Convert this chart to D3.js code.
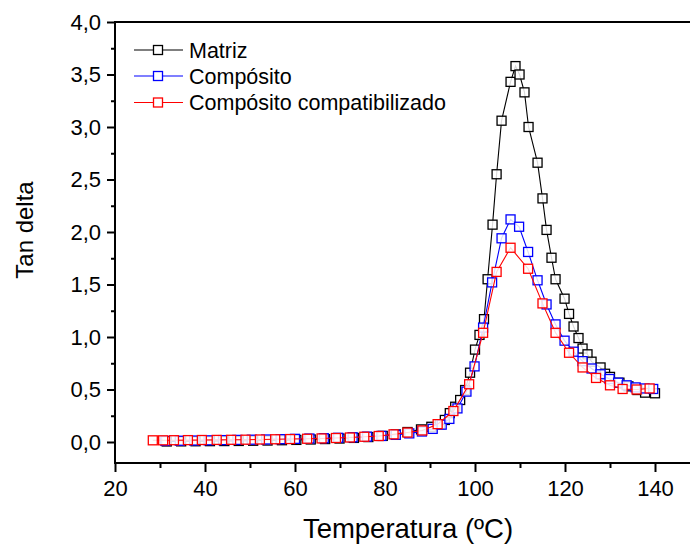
<!DOCTYPE html>
<html>
<head>
<meta charset="utf-8">
<script src="https://cdn.jsdelivr.net/npm/d3@7"></script>
<style>
html,body{margin:0;padding:0;background:#fff;}
svg{display:block;font-family:"Liberation Sans",Arial,sans-serif;}
</style>
</head>
<body>
<svg id="chart" width="690" height="544"></svg>
<script>
// ---- data ----
const seriesNames = ["Matriz", "Compósito", "Compósito compatibilizado"];
const seriesColors = ["#000000", "#0000ff", "#ff0000"];

const matrizT = [31.5,34.7,37.9,41.1,44.3,47.5,50.7,53.9,57.1,60.3,63.5,66.7,69.9,73.1,76.3,79.5,82.4,85.0,88.0,90.3,92.2,93.3,94.4,95.6,96.7,97.8,98.9,100.0,101.0,102.0,102.8,103.9,104.8,105.9,107.9,109.0,109.9,111.0,111.9,113.9,115.0,115.9,117.0,117.9,119.9,120.9,121.9,123.0,123.9,125.0,125.9,127.9,128.9,130.0,132.1,134.1,136.1,137.8,140.0];
const matrizV = [0.005,0.006,0.007,0.008,0.009,0.010,0.012,0.014,0.017,0.020,0.024,0.028,0.033,0.039,0.047,0.058,0.072,0.095,0.120,0.145,0.170,0.210,0.275,0.336,0.400,0.495,0.660,0.880,1.020,1.170,1.550,2.070,2.550,3.060,3.430,3.580,3.500,3.330,3.000,2.660,2.320,2.020,1.755,1.550,1.365,1.220,1.100,0.990,0.890,0.835,0.765,0.710,0.650,0.620,0.565,0.530,0.495,0.470,0.464];

const compT = [31.2,34.4,37.6,40.8,44.0,47.2,50.4,53.6,56.8,60.0,63.2,66.4,69.6,72.8,76.0,79.2,82.4,85.4,88.2,90.6,92.6,94.3,96.1,98.1,99.9,101.8,103.8,105.9,107.9,109.8,111.8,113.9,115.9,117.9,119.9,121.9,123.9,125.9,127.9,129.9,131.8,133.7,135.7,137.7,139.6];
const compV = [0.010,0.012,0.014,0.016,0.018,0.020,0.022,0.024,0.027,0.030,0.033,0.036,0.040,0.045,0.051,0.058,0.068,0.082,0.100,0.125,0.165,0.220,0.320,0.480,0.720,1.090,1.520,1.940,2.120,2.050,1.810,1.540,1.310,1.120,0.965,0.860,0.770,0.700,0.645,0.600,0.565,0.540,0.520,0.510,0.505];

const compatT = [28.4,30.7,33.1,36.2,39.3,42.6,45.8,49.0,52.2,55.6,58.9,62.7,65.9,69.1,72.2,75.4,78.6,81.9,85.0,88.3,91.7,95.2,98.7,101.8,104.8,107.9,111.8,115.0,117.9,120.9,123.9,126.9,130.0,132.8,135.9,138.8];
const compatV = [0.016,0.016,0.017,0.018,0.019,0.020,0.021,0.022,0.024,0.026,0.028,0.031,0.034,0.038,0.043,0.050,0.057,0.073,0.090,0.110,0.170,0.295,0.550,1.040,1.620,1.850,1.650,1.320,1.040,0.850,0.710,0.610,0.540,0.505,0.500,0.510];

const xMajorTicks = [20,40,60,80,100,120,140];
const xMinorTicks = [30,50,70,90,110,130,150];
const yMajorTicks = [0,0.5,1.0,1.5,2.0,2.5,3.0,3.5,4.0];
const yMinorTicks = [0.25,0.75,1.25,1.75,2.25,2.75,3.25,3.75];
const xTitle = "Temperatura (ºC)";
const yTitle = "Tan delta";

// ---- chart ----
const svg = d3.select("#chart");
const x = d3.scaleLinear().domain([20,150]).range([115,700]);
const y = d3.scaleLinear().domain([-0.2,4.0]).range([463,22]);
const locale = d3.formatLocale({decimal:",", thousands:".", grouping:[3], currency:["",""]});
const yFmt = locale.format(".1f");

const series = [
  {name:seriesNames[0], color:seriesColors[0], pts:matrizT.map((t,i)=>[t,matrizV[i]])},
  {name:seriesNames[1], color:seriesColors[1], pts:compT.map((t,i)=>[t,compV[i]])},
  {name:seriesNames[2], color:seriesColors[2], pts:compatT.map((t,i)=>[t,compatV[i]])}
];

const line = d3.line().x(d=>x(d[0])).y(d=>y(d[1]));
const S = 9;
series.forEach(s=>{
  const g = svg.append("g");
  g.append("path").attr("d", line(s.pts)).attr("fill","none")
    .attr("stroke", s.color).attr("stroke-width",1.1);
  g.selectAll("rect").data(s.pts).join("rect")
    .attr("x", d=>x(d[0])-S/2).attr("y", d=>y(d[1])-S/2)
    .attr("width",S).attr("height",S)
    .attr("fill","#fff").attr("fill-opacity",0.85).attr("stroke", s.color).attr("stroke-width",1.3);
});

// axes
const xAxis = svg.append("g").attr("transform","translate(0,463)");
xAxis.call(d3.axisBottom(x).tickValues(xMajorTicks).tickSize(9).tickFormat(d3.format("d")).tickPadding(8));
xAxis.append("g").call(d3.axisBottom(x).tickValues(xMinorTicks).tickSize(5).tickFormat(""));
const yAxis = svg.append("g").attr("transform","translate(115,0)");
yAxis.call(d3.axisLeft(y).tickValues(yMajorTicks).tickSize(8).tickFormat(yFmt).tickPadding(6));
yAxis.append("g").call(d3.axisLeft(y).tickValues(yMinorTicks).tickSize(4).tickFormat(""));
svg.selectAll(".domain").remove();
svg.selectAll(".tick line").attr("stroke","#000").attr("stroke-width",2);
svg.selectAll(".tick text").attr("font-size",22).attr("fill","#000")
  .attr("font-family","'Liberation Sans',Arial,sans-serif");
// frame lines
svg.append("line").attr("x1",115).attr("x2",700).attr("y1",463).attr("y2",463).attr("stroke","#000").attr("stroke-width",2);
svg.append("line").attr("x1",115).attr("x2",700).attr("y1",22).attr("y2",22).attr("stroke","#000").attr("stroke-width",2);
svg.append("line").attr("x1",115).attr("x2",115).attr("y1",21).attr("y2",464).attr("stroke","#000").attr("stroke-width",2);

// titles
svg.append("text").attr("x",408).attr("y",538).attr("text-anchor","middle")
  .attr("font-size",27.5).text(xTitle);
svg.append("text").attr("transform","translate(33,230) rotate(-90)").attr("text-anchor","middle")
  .attr("font-size",24).text(yTitle);

// legend
const legY = [50,76,102.5];
series.forEach((s,i)=>{
  const g = svg.append("g");
  g.append("line").attr("x1",134).attr("x2",183).attr("y1",legY[i]).attr("y2",legY[i])
    .attr("stroke",s.color).attr("stroke-width",1.1);
  g.append("rect").attr("x",158-S/2).attr("y",legY[i]-S/2).attr("width",S).attr("height",S)
    .attr("fill","#fff").attr("stroke",s.color).attr("stroke-width",1.3);
  g.append("text").attr("x",189).attr("y",legY[i]).attr("dy","0.35em")
    .attr("font-size",21.5).text(s.name);
});
</script>
</body>
</html>
